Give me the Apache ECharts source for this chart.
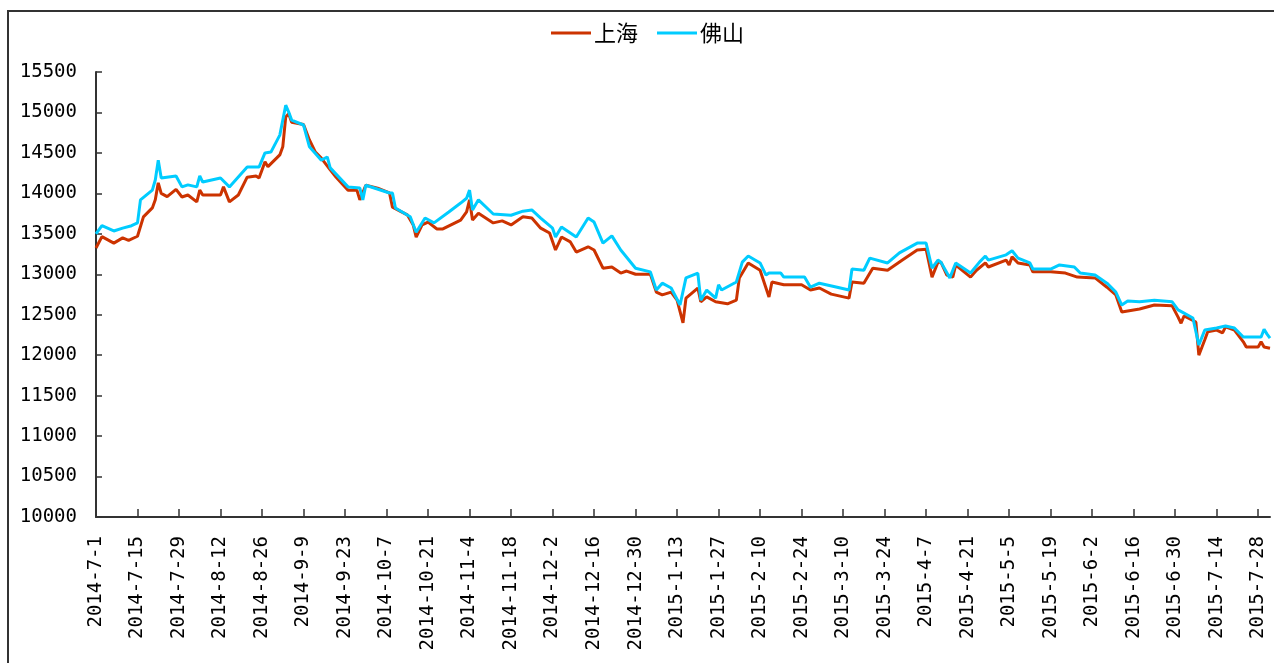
<!DOCTYPE html>
<html>
<head>
<meta charset="utf-8">
<script src="https://cdn.jsdelivr.net/npm/echarts@6/dist/echarts.min.js"></script>
<style>
html,body{margin:0;padding:0;background:#fff;}
#chart{width:1274px;height:663px;}
</style>
</head>
<body>
<div id="chart"></div>
<script>
// x = day number counted from 2014-7-1 (0) to 2015-8-1 (396)
const tickLabels = ['2014-7-1','2014-7-15','2014-7-29','2014-8-12','2014-8-26','2014-9-9','2014-9-23','2014-10-7','2014-10-21','2014-11-4','2014-11-18','2014-12-2','2014-12-16','2014-12-30','2015-1-13','2015-1-27','2015-2-10','2015-2-24','2015-3-10','2015-3-24','2015-4-7','2015-4-21','2015-5-5','2015-5-19','2015-6-2','2015-6-16','2015-6-30','2015-7-14','2015-7-28'];
const seriesNames = ['上海','佛山'];

const shanghai = [
[0,13325],[2,13465],[6,13385],[9,13450],[11,13420],[14,13470],[16,13710],[19,13820],[20,13920],[21,14130],[22,14000],[24,13960],[27,14050],[29,13955],[31,13980],[34,13895],[35,14040],[36,13980],[42,13980],[43,14080],[45,13895],[48,13980],[51,14200],[54,14215],[55,14190],[56,14290],[57,14390],[58,14330],[62,14475],[63,14575],[64,14945],[65,14985],[66,14880],[70,14850],[72,14660],[74,14510],[76,14435],[79,14290],[81,14200],[85,14040],[88,14040],[89,13920],[91,14100],[95,14065],[99,14005],[100,13830],[105,13735],[107,13610],[108,13460],[110,13610],[112,13645],[115,13560],[117,13560],[123,13670],[125,13770],[126,13920],[127,13670],[129,13755],[134,13635],[137,13660],[140,13610],[144,13710],[147,13695],[150,13570],[153,13510],[155,13300],[157,13460],[160,13400],[162,13275],[166,13340],[168,13300],[171,13075],[174,13090],[177,13015],[179,13040],[182,13000],[187,13000],[189,12780],[191,12745],[194,12780],[196,12680],[198,12400],[199,12705],[203,12830],[204,12660],[206,12720],[209,12660],[213,12635],[216,12680],[217,12955],[220,13140],[224,13050],[227,12720],[228,12905],[232,12870],[238,12870],[241,12805],[244,12830],[248,12755],[254,12705],[255,12905],[259,12890],[262,13075],[267,13050],[272,13175],[277,13300],[280,13310],[282,12965],[284,13150],[285,13150],[287,12990],[289,12965],[290,13115],[295,12965],[297,13050],[300,13140],[301,13090],[307,13175],[308,13115],[309,13215],[311,13140],[315,13115],[316,13030],[322,13030],[327,13015],[331,12965],[337,12955],[341,12840],[344,12745],[346,12535],[352,12570],[357,12620],[363,12610],[365,12470],[366,12395],[367,12485],[371,12410],[372,12000],[374,12190],[375,12290],[378,12310],[380,12275],[381,12350],[384,12310],[387,12165],[388,12100],[392,12100],[393,12165],[394,12100],[396,12085]
];

const foshan = [
[0,13500],[2,13600],[6,13535],[9,13570],[12,13600],[14,13635],[15,13920],[19,14040],[20,14165],[21,14410],[22,14190],[27,14215],[29,14080],[31,14105],[34,14080],[35,14215],[36,14140],[42,14190],[45,14080],[51,14325],[55,14325],[57,14500],[59,14510],[62,14720],[64,15090],[65,15005],[66,14905],[70,14845],[72,14575],[76,14410],[78,14450],[79,14315],[85,14080],[89,14065],[90,13920],[91,14100],[99,14005],[100,14005],[101,13820],[106,13710],[108,13520],[111,13695],[114,13635],[119,13770],[123,13880],[125,13940],[126,14040],[127,13795],[129,13920],[134,13745],[140,13730],[144,13780],[147,13795],[150,13695],[154,13570],[155,13460],[157,13585],[162,13460],[166,13695],[168,13645],[171,13385],[174,13475],[177,13300],[182,13075],[187,13030],[189,12805],[191,12890],[194,12830],[197,12620],[199,12955],[203,13015],[204,12680],[206,12805],[209,12705],[210,12870],[211,12805],[216,12905],[218,13150],[220,13225],[224,13140],[226,12990],[227,13015],[231,13015],[232,12965],[239,12965],[241,12840],[244,12890],[250,12840],[254,12805],[255,13065],[259,13050],[261,13200],[267,13140],[271,13265],[277,13385],[280,13385],[282,13075],[284,13175],[285,13150],[288,12955],[290,13140],[295,13015],[298,13150],[300,13225],[301,13175],[307,13240],[309,13290],[311,13200],[315,13140],[316,13065],[322,13065],[325,13115],[330,13090],[332,13015],[337,12990],[341,12890],[344,12780],[346,12620],[348,12670],[352,12660],[357,12680],[363,12660],[365,12560],[367,12520],[370,12460],[372,12125],[374,12310],[378,12335],[381,12360],[384,12335],[387,12225],[393,12225],[394,12320],[395,12260],[396,12210]
];

const chart = echarts.init(document.getElementById('chart'), null, {renderer:'canvas'});
const tickValues = tickLabels.map((_, i) => i * 14);

chart.setOption({
  animation: false,
  backgroundColor: '#fff',
  graphic: [{
    type: 'rect', silent: true, z: -1,
    shape: {x: 8, y: 11, width: 1300, height: 700},
    style: {fill: 'none', stroke: '#333', lineWidth: 2}
  }],
  legend: {
    left: 546, top: 17,
    itemWidth: 40, itemHeight: 3, itemGap: 19,
    icon: 'rect',
    textStyle: {fontFamily: 'Noto Sans CJK SC', fontSize: 22, color: '#000', padding: [0,0,0,-2]},
    data: seriesNames
  },
  grid: {left: 96, right: 4, top: 72, bottom: 146, containLabel: false},
  xAxis: {
    type: 'value', min: 0, max: 396,
    axisLine: {lineStyle: {color: '#333', width: 2}},
    axisTick: {inside: true, length: 8, customValues: tickValues, lineStyle: {color: '#333', width: 1.5}},
    axisLabel: {
      customValues: tickValues,
      rotate: 90, margin: 19,
      fontFamily: 'DejaVu Sans Mono', fontSize: 19, color: '#000',
      formatter: v => tickLabels[Math.round(v / 14)] || ''
    },
    splitLine: {show: false}
  },
  yAxis: {
    type: 'value', min: 10000, max: 15500, interval: 500,
    axisLine: {show: true, lineStyle: {color: '#333', width: 2}},
    axisTick: {show: true, inside: true, length: 6, lineStyle: {color: '#333', width: 1.5}},
    axisLabel: {margin: 19, fontFamily: 'DejaVu Sans Mono', fontSize: 19, color: '#000',
      formatter: v => String(v)},
    splitLine: {show: false}
  },
  series: [
    {name: seriesNames[0], type: 'line', data: shanghai, showSymbol: false, symbol: 'none',
     lineStyle: {color: '#CC3300', width: 3}, itemStyle: {color: '#CC3300'}, z: 2},
    {name: seriesNames[1], type: 'line', data: foshan, showSymbol: false, symbol: 'none',
     lineStyle: {color: '#00CCFF', width: 3}, itemStyle: {color: '#00CCFF'}, z: 3}
  ]
});
</script>
</body>
</html>
